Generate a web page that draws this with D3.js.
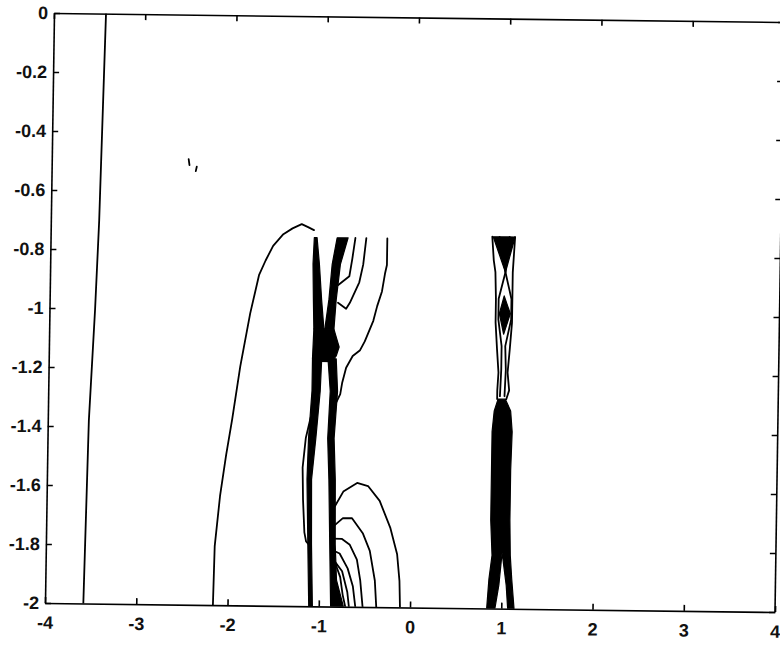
<!DOCTYPE html>
<html>
<head>
<meta charset="utf-8">
<script src="https://cdn.jsdelivr.net/npm/d3@7"></script>
<style>
  html, body { margin: 0; padding: 0; background: #fff; }
  svg { display: block; }
</style>
</head>
<body>
<div id="chart"></div>
<script>
const xTicks = [-4, -3, -2, -1, 0, 1, 2, 3, 4];
const yTicks = [0, -0.2, -0.4, -0.6, -0.8, -1, -1.2, -1.4, -1.6, -1.8, -2];

// thin contour lines, [x, y]
const farLeftLine = [[-3.43, 0], [-3.47, -0.7], [-3.5, -1.0], [-3.55, -1.38], [-3.58, -2]];
const specks = [
  [[-2.5, -0.49], [-2.49, -0.51]],
  [[-2.41, -0.515], [-2.42, -0.53]],
];
const outerArc = [
  [-2.16, -2], [-2.15, -1.8], [-2.1, -1.63], [-2.04, -1.49], [-1.98, -1.37],
  [-1.9, -1.19], [-1.8, -1.01], [-1.71, -0.88], [-1.64, -0.83], [-1.56, -0.78],
  [-1.45, -0.74], [-1.35, -0.72], [-1.25, -0.705], [-1.18, -0.715], [-1.115, -0.725],
];
const hookA = [[-0.66, -0.75], [-0.69, -0.82], [-0.72, -0.88], [-0.84, -0.91]];
const hookB = [[-0.54, -0.75], [-0.57, -0.84], [-0.61, -0.9], [-0.71, -0.97], [-0.75, -0.99], [-0.84, -0.97]];
const sweepC = [
  [-0.31, -0.75], [-0.31, -0.84], [-0.33, -0.87], [-0.36, -0.93], [-0.41, -0.98],
  [-0.45, -1.03], [-0.54, -1.1], [-0.59, -1.13], [-0.67, -1.15], [-0.74, -1.19],
  [-0.78, -1.24], [-0.8, -1.28], [-0.86, -1.32],
];
const leftLoop = [[-1.12, -1.36], [-1.17, -1.43], [-1.2, -1.53], [-1.19, -1.64], [-1.17, -1.75], [-1.15, -1.78], [-1.12, -1.79]];
const arc1 = [[-0.84, -1.66], [-0.75, -1.61], [-0.6, -1.58], [-0.48, -1.59], [-0.35, -1.64], [-0.23, -1.73], [-0.15, -1.82], [-0.12, -1.91], [-0.11, -2]];
const arc2 = [[-0.86, -1.73], [-0.75, -1.7], [-0.65, -1.7], [-0.53, -1.75], [-0.45, -1.81], [-0.39, -1.91], [-0.37, -2]];
const arc3 = [[-0.86, -1.77], [-0.76, -1.77], [-0.67, -1.79], [-0.59, -1.84], [-0.55, -1.91], [-0.52, -2]];
const arc4 = [[-0.85, -1.81], [-0.78, -1.82], [-0.69, -1.87], [-0.63, -1.93], [-0.6, -2]];
const arc5 = [[-0.85, -1.84], [-0.75, -1.88], [-0.69, -1.95], [-0.67, -2]];
const arc6 = [[-0.83, -1.85], [-0.77, -1.9], [-0.74, -1.96], [-0.71, -2]];
const outerL1 = [[0.84, -0.74], [0.86, -0.82], [0.88, -0.86], [0.89, -0.95], [0.89, -1.03], [0.91, -1.12], [0.93, -1.2], [0.92, -1.26], [0.92, -1.29]];
const outerR1 = [[1.09, -0.74], [1.07, -0.86], [1.07, -0.95], [1.07, -1.03], [1.05, -1.12], [1.03, -1.2], [1.05, -1.26], [1.02, -1.29]];
const innerL1 = [[0.92, -0.74], [0.99, -0.86], [0.92, -0.95], [0.92, -1.02], [0.96, -1.11], [0.96, -1.19], [0.95, -1.28]];
const innerR1 = [[1.03, -0.74], [0.99, -0.86], [1.06, -0.95], [1.06, -1.02], [1.0, -1.11], [1.01, -1.19], [1.0, -1.28]];

// places where the contours pile up into solid black
const leftUpper = [[-1.11, -0.75], [-1.12, -0.84], [-1.11, -0.96], [-1.1, -1.06], [-0.99, -1.06], [-1.02, -0.96], [-1.05, -0.84], [-1.08, -0.75]];
const rightUpper = [[-0.86, -0.75], [-0.91, -0.84], [-0.94, -0.96], [-0.98, -1.06], [-0.88, -1.06], [-0.86, -0.96], [-0.82, -0.84], [-0.74, -0.75]];
const crossing = [[-1.1, -1.06], [-0.88, -1.06], [-0.85, -1.09], [-0.82, -1.12], [-0.85, -1.15], [-0.9, -1.17], [-1.03, -1.17], [-1.11, -1.16]];
const leftLower = [[-1.11, -1.16], [-1.11, -1.27], [-1.14, -1.43], [-1.15, -1.57], [-1.13, -1.79], [-1.11, -2], [-1.07, -2], [-1.09, -1.79], [-1.1, -1.57], [-1.06, -1.43], [-1.02, -1.27], [-1.01, -1.17]];
const rightLower = [[-0.94, -1.16], [-0.91, -1.27], [-0.93, -1.43], [-0.91, -1.57], [-0.89, -1.79], [-0.87, -2], [-0.73, -2], [-0.81, -1.91], [-0.83, -1.79], [-0.84, -1.57], [-0.86, -1.43], [-0.83, -1.27], [-0.85, -1.16]];
const wedge1 = [[0.85, -0.74], [1.09, -0.74], [0.99, -0.86]];
const diamond1 = [[0.98, -0.94], [1.05, -1.0], [0.98, -1.07], [0.93, -1.0]];
const body1 = [
  [0.93, -1.29], [0.89, -1.33], [0.87, -1.4], [0.87, -1.53], [0.87, -1.7], [0.89, -1.82], [0.86, -1.9],
  [0.84, -2], [0.93, -2], [0.97, -1.92], [1.0, -1.81], [1.05, -1.92], [1.07, -2], [1.14, -2],
  [1.11, -1.9], [1.09, -1.82], [1.08, -1.7], [1.08, -1.53], [1.09, -1.4], [1.07, -1.33], [1.01, -1.29],
];

const thinLines = [
  farLeftLine, ...specks, outerArc, hookA, hookB, sweepC, leftLoop,
  arc1, arc2, arc3, arc4, arc5, arc6, outerL1, outerR1, innerL1, innerR1,
];
const solidBands = [leftUpper, rightUpper, crossing, leftLower, rightLower, wedge1, diamond1, body1];

const size = { width: 780, height: 648 };
const plot = { left: 54, top: 13, width: 730, height: 590, slantX: -9, slantY: 9 };

const svg = d3
  .select('#chart')
  .append('svg')
  .attr('width', size.width)
  .attr('height', size.height);

const x = d3.scaleLinear().domain([-4, 4]).range([0, plot.width]);
const y = d3.scaleLinear().domain([-2, 0]).range([plot.height, 0]);

// the scanned page sits a little crooked, so skew the whole frame
const g = svg
  .append('g')
  .attr(
    'transform',
    `matrix(1, ${plot.slantY / plot.width}, ${plot.slantX / plot.height}, 1, ${plot.left}, ${plot.top})`,
  );

g.append('clipPath')
  .attr('id', 'plot-clip')
  .append('rect')
  .attr('width', plot.width)
  .attr('height', plot.height);

const line = d3
  .line()
  .x((d) => x(d[0]))
  .y((d) => y(d[1]));

const marks = g.append('g').attr('clip-path', 'url(#plot-clip)');

marks
  .selectAll('path.band')
  .data(solidBands)
  .enter()
  .append('path')
  .attr('class', 'band')
  .attr('d', (d) => line(d) + 'Z')
  .attr('fill', '#000')
  .attr('stroke', '#000')
  .attr('stroke-width', 1.2)
  .attr('stroke-linejoin', 'round');

marks
  .selectAll('path.contour')
  .data(thinLines)
  .enter()
  .append('path')
  .attr('class', 'contour')
  .attr('d', line)
  .attr('fill', 'none')
  .attr('stroke', '#000')
  .attr('stroke-width', 1.8)
  .attr('stroke-linejoin', 'round')
  .attr('stroke-linecap', 'round');

const styleAxis = (sel) => {
  sel
    .attr('font-family', "'Liberation Sans', Arial, sans-serif")
    .attr('font-size', 18)
    .attr('font-weight', 'bold');
  sel.select('.domain').attr('stroke-width', 1.6);
  sel.selectAll('.tick line').attr('stroke-width', 1.6);
  sel.selectAll('.tick text').attr('fill', '#111');
};

g.append('g')
  .attr('transform', `translate(0, ${plot.height})`)
  .call(d3.axisBottom(x).tickValues(xTicks).tickSizeInner(-6).tickSizeOuter(0).tickPadding(13).tickFormat((d) => String(d)))
  .call(styleAxis);

g.append('g')
  .call(d3.axisLeft(y).tickValues(yTicks).tickSizeInner(-6).tickSizeOuter(0).tickPadding(6).tickFormat((d) => String(d)))
  .call(styleAxis);

g.append('g')
  .call(d3.axisTop(x).tickValues(xTicks).tickSizeInner(-6).tickSizeOuter(0).tickFormat(''))
  .call(styleAxis);

// right edge of the frame is missing near the top in the original
const rightAxis = g
  .append('g')
  .attr('transform', `translate(${plot.width}, 0)`)
  .call(d3.axisRight(y).tickValues(yTicks).tickSizeInner(-6).tickSizeOuter(0).tickFormat(''))
  .call(styleAxis);
rightAxis.select('.domain').remove();
rightAxis
  .append('line')
  .attr('x1', 0)
  .attr('x2', 0)
  .attr('y1', y(-0.5))
  .attr('y2', y(-2))
  .attr('stroke', '#000')
  .attr('stroke-width', 1.6);
</script>
</body>
</html>
